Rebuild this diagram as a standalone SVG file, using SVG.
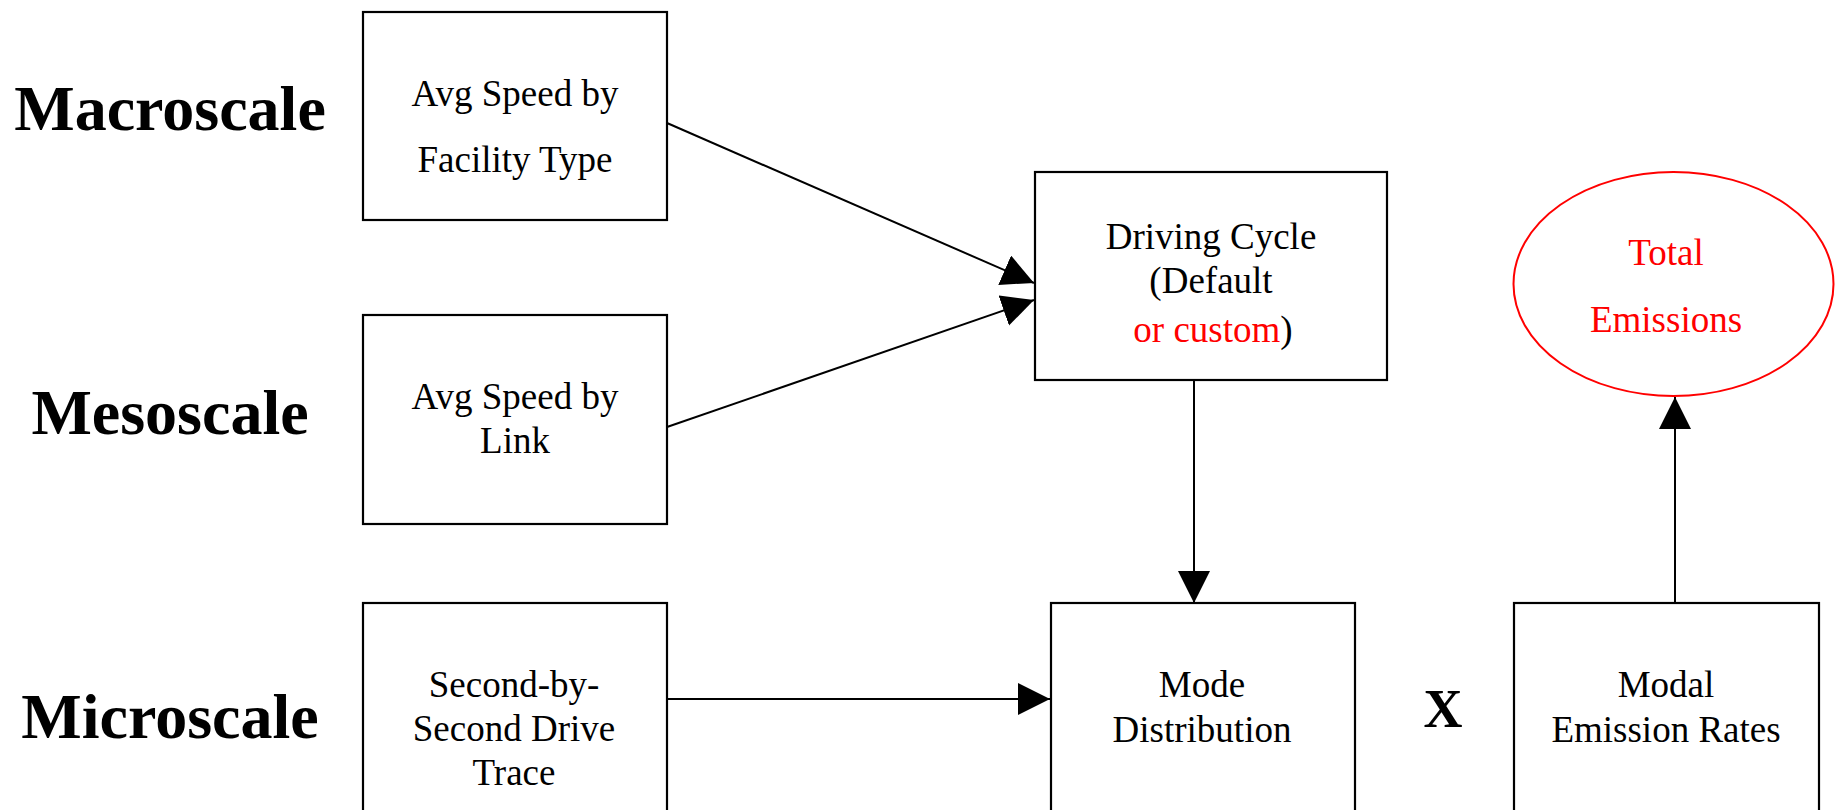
<svg xmlns="http://www.w3.org/2000/svg" width="1835" height="810" viewBox="0 0 1835 810">
<style>
.box{fill:#fff;stroke:#000;stroke-width:2.2}
.t{font-family:"Liberation Serif","Times New Roman",serif;font-size:37px;fill:#000;text-anchor:middle}
.red{fill:#ff0000}
.scale{font-family:"Liberation Serif","Times New Roman",serif;font-size:64px;font-weight:bold;fill:#000;text-anchor:middle}
.conn{stroke:#000;stroke-width:2;fill:none}
</style>
<defs>
<marker id="ah" markerUnits="userSpaceOnUse" markerWidth="34" markerHeight="34" refX="32" refY="16" orient="auto">
<path d="M0,0 L32,16 L0,32 Z" fill="#000"/>
</marker>
</defs>
<rect width="1835" height="810" fill="#fff"/>
<text class="scale" x="170" y="130">Macroscale</text>
<text class="scale" x="170" y="434">Mesoscale</text>
<text class="scale" x="170" y="738">Microscale</text>
<g id="avg-facility">
<rect class="box" x="363" y="12" width="304" height="208"/>
<text class="t" x="515" y="106">Avg Speed by</text>
<text class="t" x="515" y="172">Facility Type</text>
</g>
<g id="avg-link">
<rect class="box" x="363" y="315" width="304" height="209"/>
<text class="t" x="515" y="409">Avg Speed by</text>
<text class="t" x="515" y="453">Link</text>
</g>
<g id="drive-trace">
<rect class="box" x="363" y="603" width="304" height="230"/>
<text class="t" x="514" y="697">Second-by-</text>
<text class="t" x="514" y="741">Second Drive</text>
<text class="t" x="514" y="785">Trace</text>
</g>
<g id="driving-cycle">
<rect class="box" x="1035" y="172" width="352" height="208"/>
<text class="t" x="1211" y="249">Driving Cycle</text>
<text class="t" x="1211" y="293">(Default</text>
<text class="t" x="1213" y="342"><tspan class="red">or custom</tspan>)</text>
</g>
<g id="total-emissions">
<ellipse cx="1673.5" cy="284" rx="160" ry="112" fill="#fff" stroke="#ff0000" stroke-width="2"/>
<text class="t red" x="1666" y="265">Total</text>
<text class="t red" x="1666" y="332">Emissions</text>
</g>
<g id="mode-distribution">
<rect class="box" x="1051" y="603" width="304" height="230"/>
<text class="t" x="1202" y="697">Mode</text>
<text class="t" x="1202" y="742">Distribution</text>
</g>
<text id="times" x="1443" y="727" style="font-family:'Liberation Serif','Times New Roman',serif;font-size:54px;font-weight:bold;text-anchor:middle">X</text>
<g id="modal-rates">
<rect class="box" x="1514" y="603" width="305" height="230"/>
<text class="t" x="1666" y="697">Modal</text>
<text class="t" x="1666" y="742">Emission Rates</text>
</g>
<g id="connectors">
<line class="conn" x1="667" y1="123" x2="1034" y2="283" marker-end="url(#ah)"/>
<line class="conn" x1="667" y1="427" x2="1034" y2="300" marker-end="url(#ah)"/>
<line class="conn" x1="667" y1="699" x2="1050" y2="699" marker-end="url(#ah)"/>
<line class="conn" x1="1194" y1="380" x2="1194" y2="603" marker-end="url(#ah)"/>
<line class="conn" x1="1675" y1="603" x2="1675" y2="397" marker-end="url(#ah)"/>
</g>
</svg>
